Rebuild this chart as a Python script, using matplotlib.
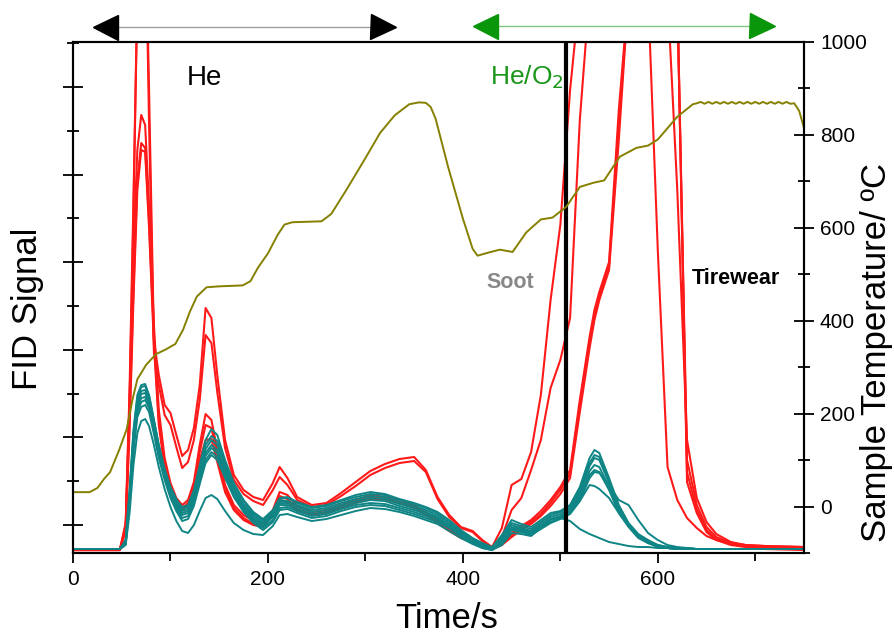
import matplotlib.pyplot as plt
from matplotlib.ticker import MultipleLocator

plt.rcParams['font.family'] = ['Liberation Sans', 'DejaVu Sans']

# time grid shared by every FID trace (s)
time_fid = [0, 48, 54, 58, 62, 66, 70, 74, 78, 83,
            88, 94, 100, 106, 112, 118, 124, 130, 136, 142,
            148, 156, 165, 175, 185, 195, 205, 212, 220, 230,
            245, 260, 275, 290, 305, 320, 335, 350, 362, 374,
            386, 398, 410, 420, 430, 440, 450, 460, 470, 480,
            490, 500, 510, 520, 530, 535, 540, 550, 560, 570,
            580, 590, 600, 610, 620, 630, 640, 650, 660, 675,
            690, 710, 750]

# tirewear runs (FID signal, arbitrary units; values above 511 run off the top)
tirewear_1 = [3, 3, 30, 163, 353, 560, 650, 650, 463, 213,
              178, 148, 140, 118, 97, 103, 125, 168, 245, 235,
              178, 113, 78, 63, 56, 53, 70, 86, 75, 56,
              48, 50, 60, 71, 82, 89, 94, 96, 83, 56,
              38, 26, 22, 13, 6, 25, 68, 74, 101, 158,
              253, 328, 463, 560, 650, 650, 650, 650, 650, 650,
              650, 560, 303, 86, 53, 35, 25, 17, 13, 10,
              8, 7, 6]
tirewear_2 = [3, 3, 28, 150, 340, 560, 650, 650, 430, 200,
              168, 138, 128, 106, 85, 91, 113, 153, 218, 210,
              161, 105, 73, 59, 52, 48, 63, 76, 68, 53,
              46, 48, 57, 67, 78, 85, 90, 92, 81, 54,
              36, 25, 21, 12, 5, 16, 43, 55, 83, 113,
              165, 193, 235, 433, 560, 650, 650, 650, 650, 650,
              650, 650, 650, 560, 363, 113, 55, 31, 19, 11,
              8, 7, 6]
tirewear_3 = [3, 3, 23, 153, 303, 403, 438, 428, 348, 228,
              143, 95, 70, 55, 48, 53, 71, 108, 139, 133,
              103, 68, 48, 38, 32, 30, 43, 61, 58, 47,
              41, 43, 48, 53, 58, 56, 53, 48, 41, 33,
              25, 18, 13, 8, 5, 10, 20, 27, 33, 42,
              53, 66, 83, 153, 216, 243, 261, 291, 443, 560,
              650, 650, 650, 650, 560, 93, 48, 26, 16, 10,
              7, 6, 5]
tirewear_4 = [3, 3, 25, 133, 263, 373, 410, 405, 333, 215,
              133, 88, 64, 51, 45, 50, 67, 101, 128, 125,
              98, 65, 45, 35, 29, 27, 40, 57, 54, 44,
              39, 41, 46, 51, 56, 54, 51, 46, 39, 31,
              23, 16, 12, 8, 5, 9, 18, 25, 31, 39,
              50, 63, 79, 148, 211, 238, 257, 287, 428, 560,
              650, 650, 650, 650, 560, 81, 43, 23, 14, 9,
              7, 5, 4]
tirewear_5 = [3, 3, 22, 123, 253, 363, 403, 401, 325, 208,
              128, 85, 62, 49, 43, 48, 63, 93, 113, 114,
              91, 61, 43, 33, 28, 26, 38, 53, 51, 42,
              38, 40, 45, 50, 54, 53, 50, 45, 38, 30,
              22, 15, 11, 7, 4, 8, 16, 23, 29, 37,
              47, 59, 75, 141, 205, 233, 253, 283, 413, 560,
              650, 650, 650, 650, 560, 71, 40, 21, 13, 8,
              6, 4, 3]

# soot runs
soot_1 = [4, 4, 13, 63, 123, 158, 168, 169, 158, 133,
          108, 83, 65, 53, 46, 48, 63, 88, 113, 124,
          118, 93, 70, 53, 41, 34, 43, 55, 56, 51,
          46, 48, 53, 58, 61, 59, 54, 50, 46, 41,
          33, 23, 15, 10, 6, 18, 33, 29, 26, 33,
          40, 42, 48, 66, 95, 103, 100, 75, 48, 30,
          19, 13, 8, 6, 5, 5, 4, 4, 4, 4,
          4, 4, 4]
soot_2 = [4, 4, 12, 60, 120, 155, 166, 167, 157, 133,
          108, 84, 66, 54, 44, 46, 60, 84, 108, 117,
          112, 90, 68, 52, 40, 33, 42, 54, 55, 50,
          45, 47, 52, 56, 59, 58, 53, 49, 45, 40,
          32, 22, 14, 9, 5, 16, 30, 27, 24, 31,
          38, 41, 46, 63, 90, 98, 96, 72, 46, 29,
          18, 12, 8, 6, 5, 5, 4, 4, 4, 4,
          4, 4, 4]
soot_3 = [4, 4, 11, 57, 116, 151, 162, 163, 154, 130,
          106, 82, 64, 51, 42, 44, 58, 80, 104, 113,
          108, 87, 65, 49, 38, 31, 40, 52, 52, 48,
          43, 45, 50, 54, 57, 56, 51, 47, 43, 38,
          30, 21, 13, 8, 5, 14, 28, 25, 22, 29,
          36, 39, 44, 60, 87, 95, 93, 70, 44, 28,
          17, 11, 7, 5, 5, 4, 4, 4, 4, 4,
          4, 4, 4]
soot_4 = [4, 4, 10, 55, 113, 148, 159, 160, 151, 127,
          103, 80, 62, 49, 40, 42, 55, 77, 100, 108,
          103, 84, 63, 47, 36, 29, 38, 50, 50, 46,
          41, 43, 48, 52, 55, 54, 49, 45, 41, 36,
          28, 20, 12, 7, 4, 13, 26, 24, 21, 27,
          34, 37, 42, 57, 82, 88, 86, 66, 42, 27,
          16, 10, 7, 5, 4, 4, 4, 4, 4, 4,
          4, 4, 4]
soot_5 = [4, 4, 10, 53, 110, 144, 155, 156, 148, 125,
          101, 78, 60, 47, 38, 40, 53, 75, 97, 105,
          100, 81, 61, 45, 34, 27, 36, 48, 48, 44,
          39, 41, 46, 50, 53, 52, 47, 43, 39, 35,
          27, 19, 11, 6, 4, 12, 25, 23, 20, 26,
          33, 36, 41, 55, 78, 83, 81, 63, 40, 26,
          15, 10, 6, 5, 4, 4, 4, 4, 4, 4,
          4, 4, 4]
soot_6 = [4, 4, 9, 50, 106, 140, 151, 153, 145, 122,
          98, 76, 58, 45, 35, 37, 50, 72, 93, 101,
          96, 78, 58, 43, 32, 25, 33, 45, 46, 42,
          37, 39, 44, 48, 50, 49, 45, 41, 37, 33,
          26, 18, 11, 6, 4, 11, 24, 22, 19, 25,
          31, 35, 40, 52, 68, 67, 64, 55, 40, 27,
          17, 11, 7, 5, 4, 4, 4, 4, 4, 4,
          4, 4, 4]
soot_7 = [4, 4, 9, 48, 102, 136, 146, 148, 141, 119,
          95, 73, 55, 42, 32, 34, 47, 69, 90, 98,
          93, 75, 56, 41, 30, 23, 31, 43, 44, 40,
          35, 37, 42, 46, 48, 47, 43, 39, 35, 31,
          25, 17, 10, 5, 3, 10, 23, 21, 18, 24,
          30, 34, 39, 52, 75, 81, 80, 68, 53, 48,
          33, 20, 13, 8, 6, 5, 4, 4, 4, 4,
          4, 4, 4]
soot_8 = [4, 4, 8, 40, 88, 120, 132, 134, 127, 108,
          86, 64, 46, 32, 22, 20, 28, 42, 55, 58,
          54, 42, 30, 23, 19, 18, 27, 38, 39, 36,
          32, 34, 38, 42, 45, 44, 41, 37, 33, 29,
          22, 15, 9, 5, 3, 8, 20, 19, 17, 25,
          34, 35, 32, 24, 19, 17, 15, 11, 9, 7,
          6, 6, 5, 5, 4, 4, 4, 4, 4, 4,
          4, 4, 4]

tirewear_runs = [tirewear_1, tirewear_2, tirewear_3, tirewear_4, tirewear_5]
soot_runs = [soot_1, soot_2, soot_3, soot_4, soot_5, soot_6, soot_7, soot_8]

# oven temperature programme
temp_time = [0, 17, 25, 32, 38, 47, 55, 61, 66, 75, 85, 95, 105, 113, 120,
             127, 137, 150, 174, 182, 190, 200, 210, 217, 225, 255, 265,
             280, 300, 315, 330, 345, 355, 362, 367, 372, 385, 400, 410, 415,
             425, 438, 451, 465, 480, 492, 506, 520, 534, 545, 561, 578,
             590, 600, 620, 636,
             640, 644, 648, 652, 656, 660, 664, 668, 672, 676, 680, 684,
             688, 692, 696, 700, 704, 708, 712, 716, 720, 724, 728, 732,
             736, 740, 745, 750]
temp_c = [31, 31, 40, 60, 74, 120, 166, 230, 274, 305, 328, 338, 350, 381, 420,
          452, 472, 474, 476, 485, 515, 545, 585, 607, 612, 614, 630,
          680, 750, 804, 842, 866, 870, 869, 860, 835, 730, 620, 555, 540,
          546, 553, 548, 590, 618, 622, 645, 688, 697, 702, 753, 772,
          777, 790, 839, 866,
          868, 871, 867, 871, 867, 871, 867, 871, 867, 871, 867, 871,
          867, 871, 867, 871, 867, 871, 867, 871, 867, 871, 867, 871,
          867, 868, 852, 815]

switch_time = 505.5
he_span = (33.3, 318.5)
he_o2_span = (423.0, 707.0)

fig = plt.figure(figsize=(8.95, 6.35), dpi=100)
ax = fig.add_axes([0.0816, 0.1291, 0.8167, 0.8048])
ax2 = ax.twinx()

for run in tirewear_runs:
    ax.plot(time_fid, run, color='#ff1a1a', lw=1.5, zorder=2)
for run in soot_runs:
    ax.plot(time_fid, run, color='#108585', lw=1.4, zorder=3)
ax.axvline(switch_time, color='black', lw=3, zorder=4)

ax2.plot(temp_time, temp_c, color='#858000', lw=1.4)

ax.set_xlim(0, 750)
ax.set_ylim(0, 511)
ax2.set_ylim(-100, 1000)

ax.xaxis.set_major_locator(MultipleLocator(200))
ax.xaxis.set_minor_locator(MultipleLocator(100))
ax.yaxis.set_major_locator(MultipleLocator(87.6, offset=28))
ax.yaxis.set_minor_locator(MultipleLocator(43.8, offset=28))
ax2.yaxis.set_major_locator(MultipleLocator(200))
ax2.yaxis.set_minor_locator(MultipleLocator(100))

ax.tick_params(axis='x', which='major', direction='out', length=7.5, width=1.3,
               labelsize=15, pad=5)
ax.tick_params(axis='x', which='minor', direction='out', length=6, width=1.3)
ax.tick_params(axis='y', which='major', direction='inout', length=15, width=1.3,
               labelleft=False)
ax.tick_params(axis='y', which='minor', direction='inout', length=8, width=1.3)
ax2.tick_params(axis='y', which='major', direction='inout', length=15, width=1.3,
                labelsize=15, pad=4)
ax2.tick_params(axis='y', which='minor', direction='inout', length=8, width=1.3)

for a in (ax, ax2):
    for sp in a.spines.values():
        sp.set_linewidth(1.5)

# axis titles
fig.text(447 / 895, 1 - 619 / 635, 'Time/s', fontsize=25,
         ha='center', va='center')
fig.text(28 / 895, 1 - 309 / 635, 'FID Signal', fontsize=25, rotation=90,
         ha='center', va='center')
fig.text(877 / 895, 1 - 352 / 635, 'Sample Temperature/ ºC', fontsize=25,
         rotation=90, ha='center', va='center')

# gas atmosphere arrows above the plot
trans = ax.get_xaxis_transform()
ax.plot(he_span, [1.0294, 1.0294], color='#a0a0a0', lw=1, transform=trans,
        clip_on=False)
ax.plot(he_span[0], 1.0294, marker='<', ms=18, color='black', transform=trans,
        clip_on=False)
ax.plot(he_span[1], 1.0294, marker='>', ms=18, color='black', transform=trans,
        clip_on=False)
ax.plot(he_o2_span, [1.0313, 1.0313], color='#80c880', lw=1, transform=trans,
        clip_on=False)
ax.plot(he_o2_span[0], 1.0313, marker='<', ms=18, color='#0a960a',
        transform=trans, clip_on=False)
ax.plot(he_o2_span[1], 1.0313, marker='>', ms=18, color='#0a960a',
        transform=trans, clip_on=False)

ax.text(135, 0.93, 'He', transform=trans, fontsize=20, ha='center', va='center')
ax.text(504, 0.93, 'He/O$_2$', transform=trans, fontsize=19, ha='right',
        va='center', color='#1a961a')
ax.text(449, 0.53, 'Soot', transform=trans, fontsize=15.5, fontweight='bold',
        ha='center', va='center', color='#888888')
ax.text(680, 0.538, 'Tirewear', transform=trans, fontsize=15.5,
        fontweight='bold', ha='center', va='center')

fig.savefig('out.png', dpi=100)
